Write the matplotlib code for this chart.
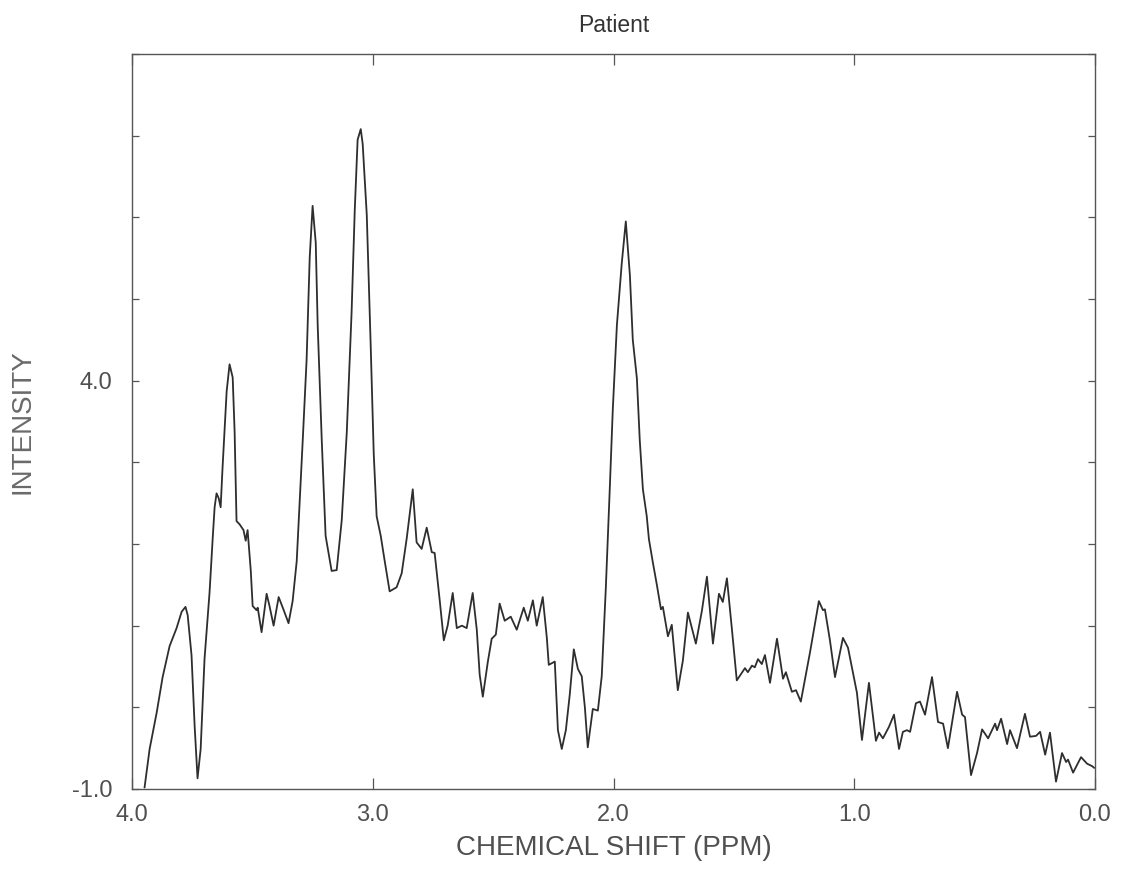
import matplotlib
matplotlib.use("Agg")
import matplotlib.pyplot as plt
from matplotlib.ticker import FixedLocator, FuncFormatter

# chemical shift (ppm) and intensity
ppm = [3.948, 3.927, 3.898, 3.873, 3.844, 3.815, 3.794, 3.778, 3.769, 3.753,
       3.740, 3.728, 3.715, 3.699, 3.678, 3.665, 3.657, 3.649, 3.640, 3.632,
       3.624, 3.607, 3.595, 3.582, 3.574, 3.566, 3.553, 3.537, 3.528, 3.520,
       3.507, 3.499, 3.483, 3.478, 3.462, 3.441, 3.429, 3.412, 3.391, 3.370,
       3.350, 3.333, 3.316, 3.304, 3.291, 3.275, 3.262, 3.250, 3.237, 3.229,
       3.212, 3.196, 3.171, 3.150, 3.129, 3.108, 3.088, 3.075, 3.063, 3.050,
       3.042, 3.025, 3.009, 2.996, 2.984, 2.967, 2.951, 2.930, 2.901, 2.880,
       2.859, 2.834, 2.818, 2.797, 2.776, 2.755, 2.743, 2.722, 2.705, 2.689,
       2.668, 2.651, 2.630, 2.610, 2.585, 2.568, 2.556, 2.543, 2.522, 2.506,
       2.489, 2.473, 2.452, 2.427, 2.402, 2.373, 2.356, 2.335, 2.319, 2.294,
       2.277, 2.269, 2.244, 2.231, 2.215, 2.198, 2.182, 2.165, 2.148, 2.132,
       2.119, 2.107, 2.086, 2.065, 2.049, 2.032, 2.015, 2.003, 1.986, 1.966,
       1.949, 1.932, 1.920, 1.903, 1.891, 1.878, 1.862, 1.853, 1.837, 1.820,
       1.803, 1.795, 1.774, 1.758, 1.733, 1.712, 1.691, 1.658, 1.633, 1.612,
       1.587, 1.562, 1.546, 1.529, 1.508, 1.488, 1.454, 1.442, 1.425, 1.413,
       1.400, 1.384, 1.371, 1.350, 1.321, 1.296, 1.284, 1.259, 1.242, 1.222,
       1.184, 1.147, 1.130, 1.122, 1.101, 1.080, 1.047, 1.026, 0.989, 0.968,
       0.939, 0.910, 0.897, 0.881, 0.856, 0.835, 0.814, 0.798, 0.781, 0.768,
       0.744, 0.727, 0.706, 0.677, 0.652, 0.631, 0.611, 0.573, 0.552, 0.540,
       0.515, 0.490, 0.469, 0.444, 0.415, 0.407, 0.390, 0.365, 0.353, 0.324,
       0.291, 0.270, 0.245, 0.228, 0.207, 0.187, 0.162, 0.137, 0.120, 0.112,
       0.091, 0.058, 0.033, 0.012, 0.004]

intensity = [-0.98, -0.51, -0.07, 0.37, 0.75, 0.97, 1.17, 1.23, 1.13, 0.64,
             -0.23, -0.87, -0.51, 0.59, 1.41, 2.07, 2.45, 2.62, 2.56, 2.45,
             2.94, 3.87, 4.20, 4.04, 3.38, 2.28, 2.24, 2.17, 2.04, 2.17,
             1.68, 1.24, 1.19, 1.22, 0.92, 1.39, 1.24, 1.00, 1.35, 1.19,
             1.03, 1.30, 1.79, 2.50, 3.27, 4.25, 5.51, 6.14, 5.69, 4.69,
             3.27, 2.10, 1.67, 1.68, 2.29, 3.37, 4.84, 6.08, 6.95, 7.08,
             6.90, 6.03, 4.46, 3.10, 2.34, 2.10, 1.80, 1.42, 1.47, 1.64,
             2.07, 2.67, 2.02, 1.94, 2.20, 1.90, 1.89, 1.31, 0.82, 1.00,
             1.40, 0.97, 1.00, 0.97, 1.40, 0.95, 0.40, 0.13, 0.56, 0.84,
             0.89, 1.27, 1.06, 1.11, 0.95, 1.22, 1.06, 1.31, 1.00, 1.35,
             0.85, 0.52, 0.56, -0.28, -0.51, -0.28, 0.15, 0.71, 0.47, 0.38,
             0.00, -0.49, -0.02, -0.04, 0.38, 1.46, 2.72, 3.65, 4.68, 5.43,
             5.95, 5.29, 4.50, 4.03, 3.27, 2.67, 2.34, 2.06, 1.78, 1.50,
             1.20, 1.23, 0.87, 1.01, 0.21, 0.57, 1.16, 0.78, 1.18, 1.60,
             0.78, 1.39, 1.29, 1.58, 0.95, 0.33, 0.48, 0.43, 0.51, 0.49,
             0.59, 0.53, 0.64, 0.30, 0.84, 0.35, 0.43, 0.19, 0.21, 0.07,
             0.67, 1.30, 1.19, 1.20, 0.82, 0.37, 0.85, 0.73, 0.18, -0.40,
             0.30, -0.41, -0.31, -0.38, -0.24, -0.09, -0.51, -0.30, -0.28, -0.30,
             0.05, 0.07, -0.09, 0.37, -0.18, -0.20, -0.50, 0.19, -0.09, -0.12,
             -0.83, -0.56, -0.27, -0.38, -0.20, -0.28, -0.14, -0.45, -0.28, -0.50,
             -0.08, -0.36, -0.35, -0.30, -0.58, -0.31, -0.91, -0.56, -0.67, -0.64,
             -0.80, -0.61, -0.69, -0.72, -0.74]

x_ticks = [4.0, 3.0, 2.0, 1.0, 0.0]
y_ticks = [-1, 0, 1, 2, 3, 4, 5, 6, 7, 8]
y_labelled = [-1.0, 4.0]

plt.rcParams['font.family'] = ['Liberation Sans', 'DejaVu Sans']
text_col = '#505050'

fig = plt.figure(figsize=(11.21, 8.72), dpi=100)
ax = fig.add_axes([0.1178, 0.0952, 0.859, 0.8429])

ax.plot(ppm, intensity, color='#2e2e2e', linewidth=1.3)

ax.set_xlim(4.0, 0.0)
ax.set_ylim(-1.0, 8.0)

ax.xaxis.set_major_locator(FixedLocator(x_ticks))
ax.xaxis.set_major_formatter(FuncFormatter(lambda v, p: f"{v:.1f}"))
ax.yaxis.set_major_locator(FixedLocator(y_ticks))
ax.yaxis.set_major_formatter(FuncFormatter(
    lambda v, p: f"{v:.1f}" if any(abs(v - t) < 1e-6 for t in y_labelled) else ""))

ax.tick_params(axis='x', direction='in', length=8, width=0.9, top=True,
               colors='#555555', labelcolor=text_col, labelsize=17, pad=11)
ax.tick_params(axis='y', direction='in', length=5, width=0.9, right=True,
               colors='#555555', labelcolor=text_col, labelsize=17, pad=14)

for s in ax.spines.values():
    s.set_color('#555555')
    s.set_linewidth(1.0)

ax.set_title("Patient", fontsize=16.5, color='#333333', pad=16)
ax.set_xlabel("CHEMICAL SHIFT (PPM)", fontsize=20, color=text_col, labelpad=6)
ax.set_ylabel("INTENSITY", fontsize=20, color='#6a6a6a', va='center')
ax.yaxis.set_label_coords(-0.114, 0.5)

fig.savefig("out.png", dpi=100)
